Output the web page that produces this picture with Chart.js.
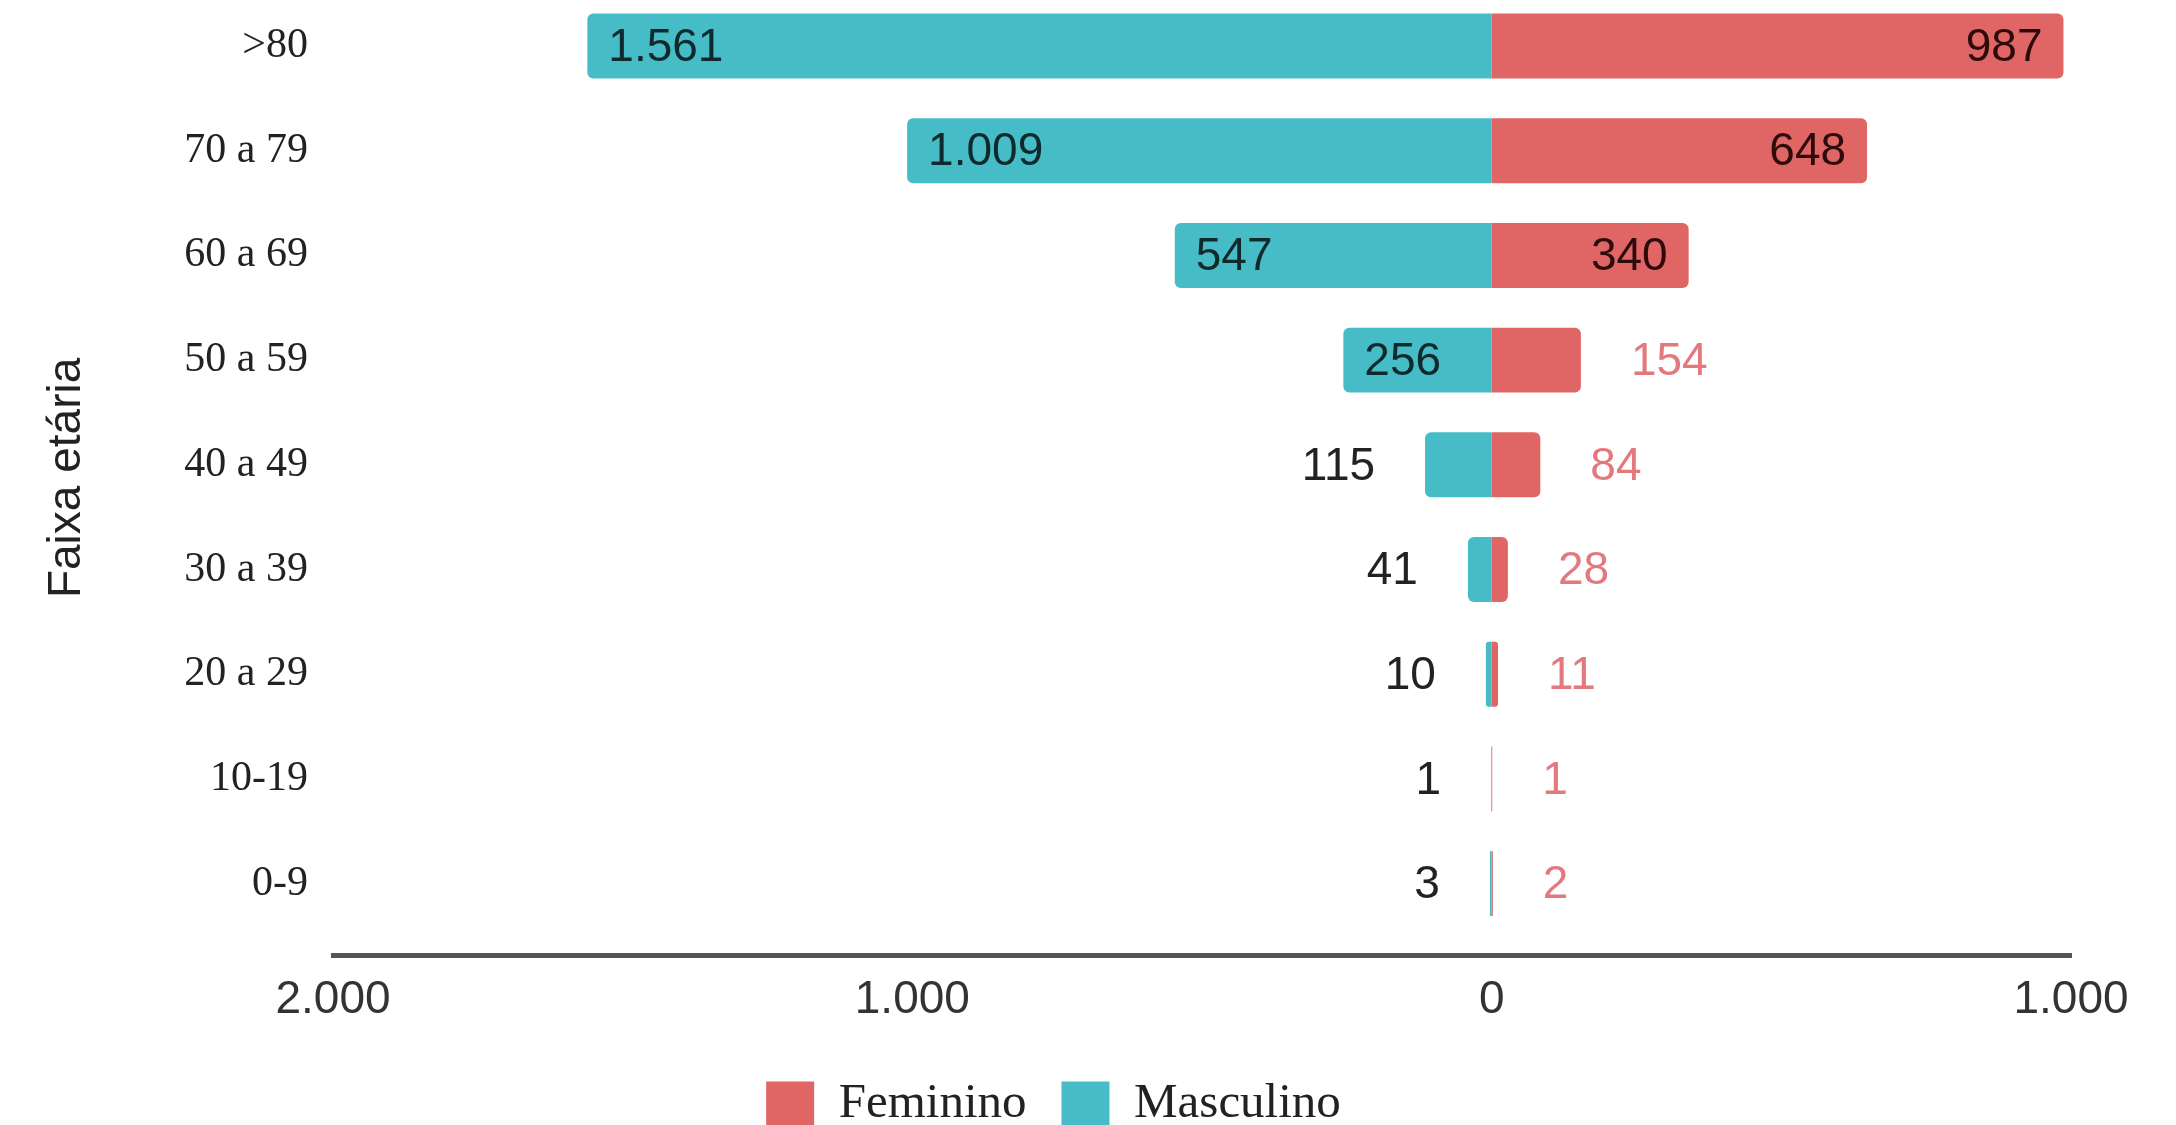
<!DOCTYPE html>
<html lang="pt-BR">
<head>
<meta charset="utf-8">
<title>Faixa etária por sexo</title>
<script src="https://cdn.jsdelivr.net/npm/chart.js@4.4.1/dist/chart.umd.min.js"></script>
<style>
  html, body { margin: 0; padding: 0; background: #fff; overflow: hidden; }
  canvas { display: block; }
</style>
</head>
<body>
<canvas id="piramide" width="2176" height="1139"></canvas>
<script>
// valores
const faixas = ['>80', '70 a 79', '60 a 69', '50 a 59', '40 a 49', '30 a 39', '20 a 29', '10-19', '0-9'];
const masculino = [1561, 1009, 547, 256, 115, 41, 10, 1, 3];
const feminino = [987, 648, 340, 154, 84, 28, 11, 1, 2];
const xTicks = [-2000, -1000, 0, 1000];

const corFem = '#e06666';
const corMasc = '#46bdc6';
const sans = '"Liberation Sans", Arial, sans-serif';
const serif = '"Liberation Serif", "Times New Roman", serif';

// 1561 -> "1.561"
function fmt(v) {
  return String(Math.abs(v)).replace(/\B(?=(\d{3})+(?!\d))/g, '.');
}

// rotulos de valor: dentro da barra se couber, senao do lado de fora
const rotulos = {
  id: 'rotulos',
  afterDatasetsDraw(chart) {
    const ctx = chart.ctx;
    ctx.save();
    ctx.font = '46px ' + sans;
    ctx.textBaseline = 'middle';
    chart.data.datasets.forEach((ds, di) => {
      const meta = chart.getDatasetMeta(di);
      meta.data.forEach((bar, i) => {
        const v = ds.data[i];
        const txt = fmt(v);
        const w = ctx.measureText(txt).width;
        const dentro = Math.abs(bar.x - bar.base) > w + 40;
        const y = bar.y + 2;
        if (v < 0) {
          if (dentro) {
            ctx.textAlign = 'left';
            ctx.fillStyle = '#10292d';
            ctx.fillText(txt, bar.x + 21, y);
          } else {
            ctx.textAlign = 'right';
            ctx.fillStyle = '#222';
            ctx.fillText(txt, bar.x - 50, y);
          }
        } else {
          if (dentro) {
            ctx.textAlign = 'right';
            ctx.fillStyle = '#2e0b0b';
            ctx.fillText(txt, bar.x - 21, y);
          } else {
            ctx.textAlign = 'left';
            ctx.fillStyle = '#e3787d';
            ctx.fillText(txt, bar.x + 50, y);
          }
        }
      });
    });
    ctx.restore();
  }
};

new Chart(document.getElementById('piramide'), {
  type: 'bar',
  data: {
    labels: faixas.map((_, i) => i),
    datasets: [
      { label: 'Feminino', data: feminino, backgroundColor: corFem, borderWidth: 0 },
      { label: 'Masculino', data: masculino.map(v => -v), backgroundColor: corMasc, borderWidth: 0 }
    ]
  },
  options: {
    indexAxis: 'y',
    responsive: false,
    animation: false,
    layout: { padding: { left: 36, right: 105, top: 0, bottom: 0 } },
    datasets: {
      bar: { barPercentage: 0.62, categoryPercentage: 1, borderRadius: 6, borderSkipped: 'start' }
    },
    scales: {
      x: {
        type: 'linear',
        stacked: true,
        min: -2000,
        max: 1000,
        afterBuildTicks: s => { s.ticks = xTicks.map(v => ({ value: v })); },
        ticks: { callback: v => fmt(v), color: '#333', padding: 17, font: { family: sans, size: 46 } },
        grid: { display: false, drawTicks: false },
        border: { display: true, color: '#555', width: 5 }
      },
      y: {
        type: 'linear',
        stacked: true,
        reverse: true,
        offset: false,
        bounds: 'data',
        min: -0.44,
        max: 8.69,
        afterBuildTicks: s => { s.ticks = faixas.map((_, i) => ({ value: i })); },
        afterFit: s => { s.width = 297; s.paddingTop = 0; s.paddingBottom = 0; },
        ticks: { callback: v => faixas[v], color: '#222', padding: 25, font: { family: serif, size: 42 } },
        grid: { display: false, drawTicks: false, offset: false },
        border: { display: false },
        title: { display: true, text: 'Faixa etária', color: '#222', font: { family: sans, size: 46 } }
      }
    },
    plugins: {
      legend: {
        position: 'bottom',
        labels: {
          boxWidth: 48,
          boxHeight: 46,
          padding: 35,
          color: '#222',
          font: { family: serif, size: 49 }
        }
      },
      tooltip: { enabled: false }
    }
  },
  plugins: [rotulos]
});
</script>
</body>
</html>
